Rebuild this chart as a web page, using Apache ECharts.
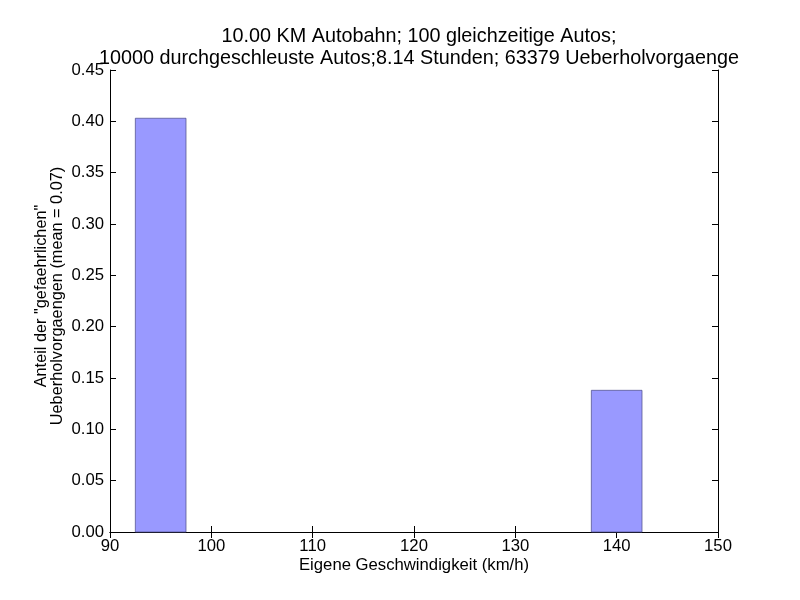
<!DOCTYPE html>
<html>
<head>
<meta charset="utf-8">
<script src="https://cdn.jsdelivr.net/npm/echarts@6/dist/echarts.min.js"></script>
<style>html,body{margin:0;padding:0;background:#fff}#c{width:800px;height:600px}</style>
</head>
<body>
<div id="c"></div>
<script>
const titleLines = ["10.00 KM Autobahn; 100 gleichzeitige Autos;", "10000 durchgeschleuste Autos;8.14 Stunden; 63379 Ueberholvorgaenge"];
const xLabel = "Eigene Geschwindigkeit (km/h)";
const yLabel = "Anteil der \"gefaehrlichen\"\nUeberholvorgaengen (mean = 0.07)";
const binStarts = [92.5, 137.5];
const binEnds = [97.5, 142.5];
const shares = [0.403, 0.138];

const FONT = "Liberation Sans, Arial, sans-serif";
const FS = 16.7;
const chart = echarts.init(document.getElementById('c'), null, {renderer: 'canvas'});
const data = binStarts.map((s, i) => [s, binEnds[i], shares[i]]);
const tickStyle = {show: true, inside: true, length: 6, lineStyle: {color: '#000', width: 1}};
const lineStyle = {show: true, lineStyle: {color: '#000', width: 1}};
chart.setOption({
  animation: false,
  backgroundColor: '#fff',
  title: {
    text: titleLines.join('\n'),
    left: 414, top: 21, textAlign: 'center',
    textStyle: {fontFamily: FONT, fontSize: 19.8, fontWeight: 'normal', color: '#000', lineHeight: 22}
  },
  grid: {left: 110, right: 82, top: 70, bottom: 68},
  xAxis: [{
    type: 'value', min: 90, max: 150, interval: 10, position: 'bottom',
    axisLine: lineStyle, axisTick: tickStyle, splitLine: {show: false},
    axisLabel: {color: '#000', fontFamily: FONT, fontSize: FS, margin: 6},
    name: xLabel, nameLocation: 'middle', nameGap: 25, nameMoveOverlap: false,
    nameTextStyle: {color: '#000', fontFamily: FONT, fontSize: FS}
  }, {
    type: 'value', min: 90, max: 150, interval: 10, position: 'top',
    axisLine: lineStyle, axisTick: tickStyle, splitLine: {show: false},
    axisLabel: {show: false}
  }],
  yAxis: [{
    type: 'value', min: 0, max: 0.45, interval: 0.05, position: 'left',
    axisLine: lineStyle, axisTick: tickStyle, splitLine: {show: false},
    axisLabel: {color: '#000', fontFamily: FONT, fontSize: FS, margin: 6, formatter: v => v.toFixed(2)},
    name: yLabel, nameLocation: 'middle', nameGap: 44, nameMoveOverlap: false,
    nameTextStyle: {color: '#000', fontFamily: FONT, fontSize: 16.3, lineHeight: 16, padding: [0, 0, 0, 10]}
  }, {
    type: 'value', min: 0, max: 0.45, interval: 0.05, position: 'right',
    axisLine: lineStyle, axisTick: tickStyle, splitLine: {show: false},
    axisLabel: {show: false}
  }],
  series: [{
    type: 'custom',
    xAxisIndex: 0, yAxisIndex: 0,
    data: data,
    renderItem: function (params, api) {
      const p0 = api.coord([api.value(0), 0]);
      const p1 = api.coord([api.value(1), api.value(2)]);
      return {
        type: 'rect',
        shape: {x: p0[0], y: p1[1], width: p1[0] - p0[0], height: p0[1] - p1[1]},
        style: {fill: 'rgb(153,153,255)', stroke: 'rgba(80,80,140,0.75)', lineWidth: 1}
      };
    }
  }]
});
</script>
</body>
</html>
